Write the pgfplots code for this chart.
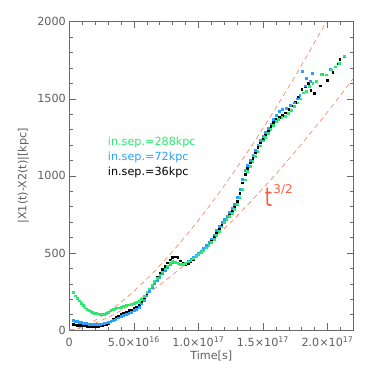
\documentclass[border=0pt]{standalone}
\usepackage{fontspec}
\setmainfont{DejaVu Sans}
\usepackage{pgfplots}
\pgfplotsset{compat=1.18}
\definecolor{sgreen}{RGB}{40,235,110}
\definecolor{sblue}{RGB}{40,160,255}
\definecolor{sred}{RGB}{250,125,95}
\definecolor{tred}{RGB}{250,95,60}
\definecolor{axgray}{RGB}{105,105,105}
\definecolor{txgray}{RGB}{95,95,95}
\newcommand{\fs}{\fontsize{11.2}{13}\selectfont}
\begin{document}
\begin{tikzpicture}
\useasboundingbox (-69.3pt,-44pt) rectangle (304.7pt,330pt);
\begin{axis}[
  scale only axis, width=284pt, height=308.3pt,
  xmin=0, xmax=2.2, ymin=0, ymax=2000,
  axis line style={axgray, line width=0.6pt},
  every tick/.style={axgray, line width=0.5pt},
  major tick length=6.5pt, minor tick length=3.3pt,
  tick align=inside,
  xtick={0,0.5,1,1.5,2},
  xticklabels={0,5.0×10\textsuperscript{16},1.0×10\textsuperscript{17},1.5×10\textsuperscript{17},2.0×10\textsuperscript{17}},
  minor xtick={0.1,0.2,0.3,0.4,0.6,0.7,0.8,0.9,1.1,1.2,1.3,1.4,1.6,1.7,1.8,1.9,2.1},
  ytick={0,500,1000,1500,2000},
  yticklabels={0,500,1000,1500,2000},
  minor ytick={100,200,300,400,600,700,800,900,1100,1200,1300,1400,1600,1700,1800,1900},
  tick label style={font=\fs, text=txgray},
  xticklabel style={anchor=base, inner sep=0pt, yshift=-16.5pt},
  label style={font=\fs, text=txgray},
  xlabel={Time[s]},
  ylabel={|X1(t)-X2(t)|[kpc]},
  xlabel style={at={(axis description cs:0.5,0)}, anchor=north, inner sep=0pt, yshift=-21pt},
  ylabel style={yshift=1.5pt},
  clip=true,
]
% reference power laws
\addplot[sred, line width=0.6pt, dash pattern=on 5pt off 3.5pt, smooth] coordinates {
(0,0) (0.05,8) (0.1,22.5) (0.2,63.7) (0.3,117.0) (0.4,180.1) (0.5,251.7) (0.6,330.9) (0.7,417.0) (0.8,509.4) (0.9,607.9) (1.0,712) (1.1,821.4) (1.2,935.9) (1.3,1055.3) (1.4,1179.4) (1.5,1308.0) (1.6,1441.0) (1.7,1578.2) (1.8,1719.5) (1.9,1864.8) (1.99,1999)};
\addplot[sred, line width=0.6pt, dash pattern=on 5pt off 3.5pt, smooth] coordinates {
(0,0) (0.05,5.6) (0.1,15.8) (0.2,44.7) (0.3,82.2) (0.4,126.5) (0.5,176.8) (0.6,232.4) (0.7,292.8) (0.8,357.8) (0.9,426.9) (1.0,500) (1.1,576.8) (1.2,657.3) (1.3,741.1) (1.4,828.2) (1.5,918.6) (1.6,1011.9) (1.7,1108.2) (1.8,1207.5) (1.9,1309.5) (2.0,1414.2) (2.1,1521.8) (2.2,1631.6)};
% in.sep.=36kpc
\addplot[only marks, color=black, mark=square*, mark size=0.9pt, mark options={draw=none, fill=black}] coordinates {
(0.030,37) (0.045,35) (0.060,33) (0.075,32) (0.090,30) (0.105,29) (0.120,28) (0.135,27) (0.150,26) (0.165,26) (0.180,26) (0.195,26) (0.210,26) (0.225,27) (0.240,28) (0.255,30) (0.270,34) (0.285,38) (0.300,45) (0.320,56) (0.340,68) (0.360,81) (0.380,93) (0.400,103) (0.420,111) (0.440,119) (0.460,126) (0.480,132) (0.500,139) (0.520,149) (0.540,164) (0.560,184) (0.580,207) (0.600,234) (0.620,262) (0.640,290) (0.660,318) (0.680,345) (0.700,370) (0.720,394) (0.740,416) (0.760,437) (0.780,456) (0.800,470) (0.820,476) (0.840,470) (0.860,450) (0.880,432) (0.900,425) (0.920,433) (0.940,446) (0.960,460) (0.980,475) (1.000,490) (1.020,505) (1.040,521) (1.060,538) (1.080,556) (1.100,578) (1.120,603) (1.140,630) (1.160,657) (1.180,684) (1.200,708) (1.220,730) (1.240,750) (1.260,773) (1.280,800) (1.300,838) (1.320,890) (1.340,955) (1.360,1012) (1.380,1052) (1.400,1085) (1.420,1115) (1.440,1150) (1.460,1185) (1.480,1218) (1.500,1245) (1.520,1268) (1.540,1292) (1.560,1320) (1.580,1348) (1.600,1370) (1.625,1380) (1.650,1395) (1.675,1410) (1.700,1432) (1.725,1455) (1.750,1480) (1.775,1510) (1.800,1560) (1.825,1578) (1.850,1600) (1.870,1555) (1.900,1537) (1.945,1585) (2.000,1618) (2.040,1670) (2.080,1727) (2.095,1755)};
% in.sep.=72kpc
\addplot[only marks, color=sblue, mark=square*, mark size=0.9pt, mark options={draw=none, fill=sblue}] coordinates {
(0.030,63) (0.045,59) (0.060,55) (0.075,52) (0.090,49) (0.105,46) (0.120,44) (0.135,42) (0.150,40) (0.165,38) (0.180,37) (0.195,37) (0.210,37) (0.225,38) (0.240,39) (0.255,41) (0.270,44) (0.285,47) (0.300,51) (0.320,57) (0.340,64) (0.360,72) (0.380,80) (0.400,88) (0.420,96) (0.440,104) (0.460,111) (0.480,118) (0.500,126) (0.520,136) (0.540,150) (0.560,170) (0.580,195) (0.600,222) (0.620,250) (0.640,276) (0.660,300) (0.680,323) (0.700,345) (0.720,366) (0.740,387) (0.760,407) (0.780,426) (0.800,440) (0.820,440) (0.840,432) (0.860,426) (0.880,426) (0.900,432) (0.920,444) (0.940,457) (0.960,471) (0.980,485) (1.000,500) (1.020,515) (1.040,531) (1.060,548) (1.080,568) (1.100,592) (1.120,618) (1.140,645) (1.160,672) (1.180,698) (1.200,720) (1.220,740) (1.240,762) (1.260,788) (1.280,818) (1.300,860) (1.320,915) (1.340,980) (1.360,1035) (1.380,1070) (1.400,1100) (1.420,1132) (1.440,1168) (1.460,1202) (1.480,1232) (1.500,1258) (1.520,1282) (1.540,1308) (1.560,1338) (1.580,1368) (1.600,1395) (1.625,1418) (1.650,1430) (1.680,1440) (1.710,1458) (1.740,1475) (1.765,1500) (1.785,1525) (1.805,1677) (1.825,1585) (1.835,1634) (1.865,1612) (1.880,1667) (1.960,1660) (2.020,1690) (2.090,1733) (2.130,1778)};
% in.sep.=288kpc
\addplot[only marks, color=sgreen, mark=square*, mark size=0.9pt, mark options={draw=none, fill=sgreen}] coordinates {
(0.030,243) (0.045,222) (0.060,205) (0.075,190) (0.090,174) (0.105,160) (0.120,147) (0.135,137) (0.150,128) (0.165,121) (0.180,116) (0.195,111) (0.210,108) (0.225,106) (0.240,104) (0.255,104) (0.270,105) (0.285,109) (0.300,116) (0.320,126) (0.340,134) (0.360,140) (0.380,145) (0.400,150) (0.420,155) (0.440,160) (0.460,164) (0.480,168) (0.500,172) (0.520,178) (0.540,188) (0.560,202) (0.580,220) (0.600,243) (0.620,268) (0.640,292) (0.660,314) (0.680,336) (0.700,358) (0.720,378) (0.740,398) (0.760,417) (0.780,434) (0.800,446) (0.820,442) (0.840,433) (0.860,428) (0.880,427) (0.900,432) (0.920,443) (0.940,455) (0.960,467) (0.980,480) (1.000,492) (1.020,505) (1.040,519) (1.060,534) (1.080,550) (1.100,568) (1.120,590) (1.140,615) (1.160,642) (1.180,670) (1.200,697) (1.220,718) (1.240,738) (1.260,760) (1.280,785) (1.300,815) (1.320,860) (1.340,915) (1.360,975) (1.380,1030) (1.400,1065) (1.420,1095) (1.440,1125) (1.460,1160) (1.480,1195) (1.500,1228) (1.520,1252) (1.540,1275) (1.560,1302) (1.580,1330) (1.600,1352) (1.620,1368) (1.645,1378) (1.670,1388) (1.695,1405) (1.720,1428) (1.745,1450) (1.770,1475) (1.790,1500) (1.810,1540) (1.835,1550) (1.860,1580) (1.885,1600) (1.910,1615) (1.950,1657) (1.990,1656) (2.030,1688) (2.060,1708) (2.090,1732) (2.130,1780)};
\node[anchor=base west, inner sep=0pt, font=\fs, text=sgreen] at (axis cs:0.298,1196) {in.sep.=288kpc};
\node[anchor=base west, inner sep=0pt, font=\fs, text=sblue] at (axis cs:0.298,1098) {in.sep.=72kpc};
\node[anchor=base west, inner sep=0pt, font=\fs, text=black] at (axis cs:0.298,1001) {in.sep.=36kpc};
\node[anchor=base west, inner sep=0pt, text=tred, font=\fontsize{26}{26}\selectfont] at (axis cs:1.513,800) {\scalebox{0.7}[1]{t}\hspace{1.5pt}\raisebox{13.4pt}{\fontsize{12}{13}\selectfont 3/2}};
\end{axis}
\end{tikzpicture}
\end{document}
